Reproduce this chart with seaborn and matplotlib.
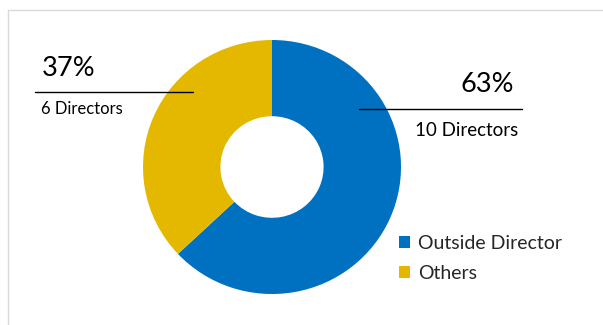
import matplotlib
matplotlib.use("Agg")
import matplotlib.pyplot as plt
import seaborn as sns
from matplotlib.patches import Patch, Rectangle
from matplotlib.lines import Line2D

categories = ["Outside Director", "Others"]
percentages = [63, 37]
counts = [10, 6]
colors = ["#0070C0", "#E5B800"]

sns.set_theme(style="white")
plt.rcParams["font.family"] = ["Lato", "DejaVu Sans"]

W, H = 603, 325
fig = plt.figure(figsize=(W / 100, H / 100), dpi=100)

def fx(px):
    return px / W

def fy(py):
    return 1 - py / H

# light border frame
fig.add_artist(Rectangle((fx(7.5), fy(400)), fx(700), 390 / H, transform=fig.transFigure,
                         fill=False, edgecolor="#D9D9D9", linewidth=1))

ax = fig.add_axes([fx(143), fy(294), fx(258), 254 / H])
wedges, _ = ax.pie(percentages, colors=colors, startangle=90, counterclock=False,
                   radius=1, wedgeprops=dict(width=0.6, edgecolor="none"))
ax.set_aspect("auto")
ax.set_xlim(-1, 1)
ax.set_ylim(-1, 1)
ax.axis("off")

# labels
fig.text(fx(42), fy(69), f"{percentages[1]}%", fontsize=19.5, va="center", ha="left", color="#000000")
fig.add_artist(Line2D([fx(35), fx(193)], [fy(91.5), fy(91.5)], color="black", lw=1, transform=fig.transFigure))
fig.text(fx(41), fy(109), f"{counts[1]} Directors", fontsize=12, va="center", ha="left", color="#000000")

fig.text(fx(514), fy(84), f"{percentages[0]}%", fontsize=19.5, va="center", ha="right", color="#000000")
fig.add_artist(Line2D([fx(359), fx(522)], [fy(108.5), fy(108.5)], color="black", lw=1, transform=fig.transFigure))
fig.text(fx(518), fy(130), f"{counts[0]} Directors", fontsize=13.5, va="center", ha="right", color="#000000")

handles = [Patch(facecolor=c, edgecolor="none") for c in colors]
fig.legend(handles, categories, loc="upper left", bbox_to_anchor=(fx(391), fy(227)),
           frameon=False, fontsize=14, handlelength=0.6, handleheight=0.6,
           handletextpad=0.4, labelspacing=0.68, borderaxespad=0)

fig.savefig("out.png", dpi=100)
